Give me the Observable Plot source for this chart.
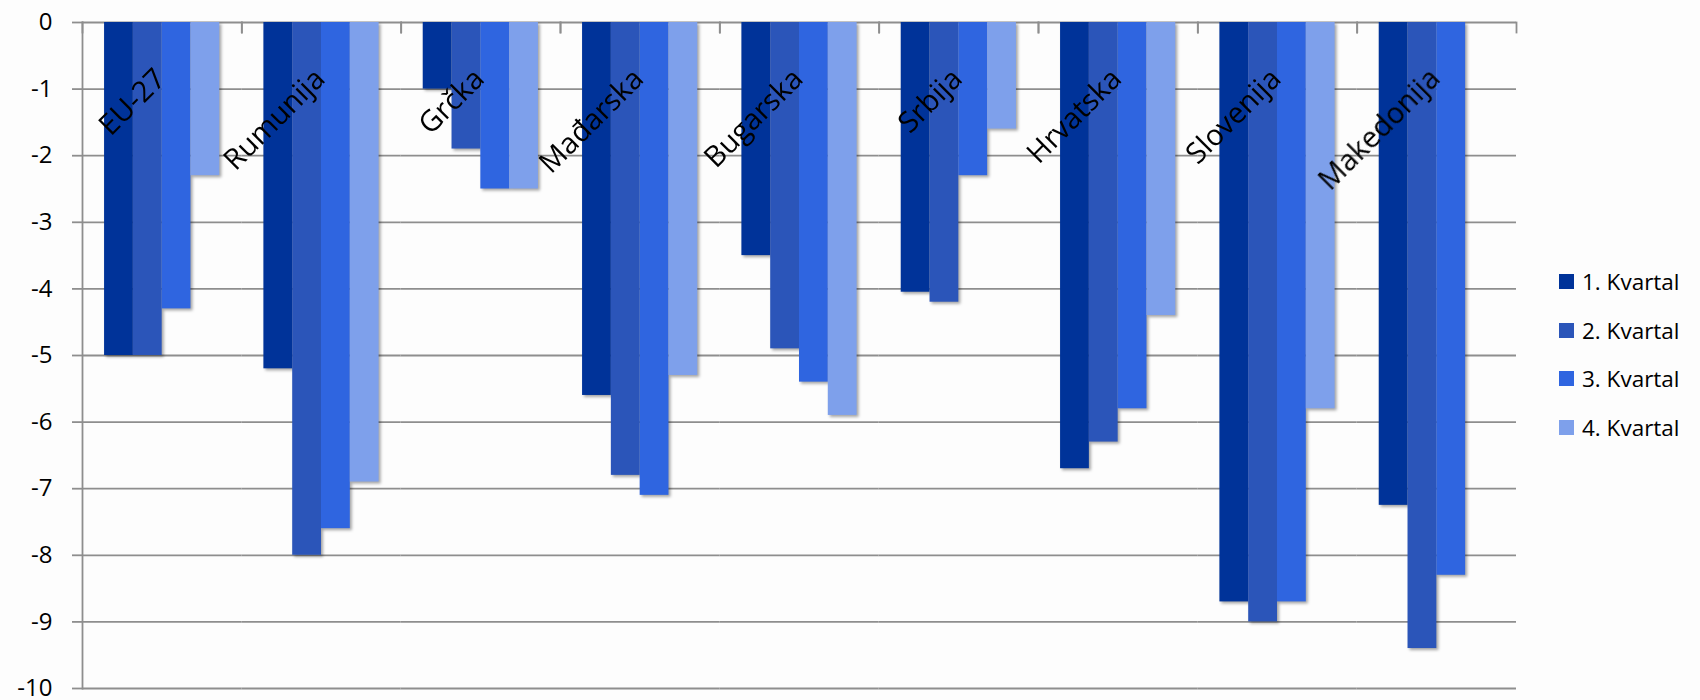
<!DOCTYPE html>
<html>
<head>
<meta charset="utf-8">
<script src="https://cdn.jsdelivr.net/npm/d3@7"></script>
<script src="https://cdn.jsdelivr.net/npm/@observablehq/plot@0.6"></script>
<style>
  html, body { margin: 0; padding: 0; background: #fdfdfd; }
  #wrap { position: relative; width: 1700px; height: 700px; font-family: "Open Sans", sans-serif; }
  #legend { position: absolute; left: 1559px; top: 274px; }
  .item { display: flex; align-items: center; height: 15px; margin-bottom: 33.7px; font-size: 22.5px; color: #000; white-space: nowrap; }
  .sw { width: 15px; height: 15px; margin-right: 8px; flex: none; }
</style>
</head>
<body>
<div id="wrap"><div id="chart"></div><div id="legend"></div></div>
<script>
const countries = ["EU-27", "Rumunija", "Grčka", "Mađarska", "Bugarska", "Srbija", "Hrvatska", "Slovenija", "Makedonija"];
const quarters = ["1. Kvartal", "2. Kvartal", "3. Kvartal", "4. Kvartal"];
const q1 = [-5.0, -5.2, -1.0, -5.6, -3.5, -4.05, -6.7, -8.7, -7.25];
const q2 = [-5.0, -8.0, -1.9, -6.8, -4.9, -4.2, -6.3, -9.0, -9.4];
const q3 = [-4.3, -7.6, -2.5, -7.1, -5.4, -2.3, -5.8, -8.7, -8.3];
const q4 = [-2.3, -6.9, -2.5, -5.3, -5.9, -1.6, -4.4, -5.8, null];
const yTicks = [0, -1, -2, -3, -4, -5, -6, -7, -8, -9, -10];
const colors = ["#003399", "#2b55b9", "#2f65e0", "#7ea0eb"];

const series = [q1, q2, q3, q4];
const data = [];
countries.forEach((c, i) => {
  series.forEach((s, j) => {
    if (s[i] != null) data.push({country: c, quarter: quarters[j], value: s[i]});
  });
});

const gridColor = "#8e8e8e";

const plot = Plot.plot({
  width: 1700,
  height: 700,
  marginLeft: 82,
  marginRight: 184,
  marginTop: 22,
  marginBottom: 12,
  style: {background: "transparent", fontFamily: "Open Sans, sans-serif", overflow: "visible"},
  fx: {domain: countries, paddingInner: 0, paddingOuter: 0, round: false, axis: null, label: null},
  x: {domain: quarters, paddingInner: 0, paddingOuter: 0.766, round: false, axis: null, label: null},
  y: {domain: [-10, 0], label: null, axis: null},
  color: {domain: quarters, range: colors},
  marks: [
    Plot.ruleY(yTicks, {stroke: gridColor, strokeWidth: 1.8}),
    Plot.frame({anchor: "left", stroke: gridColor, strokeWidth: 1.8, strokeDasharray: "10 3000"}),
    Plot.frame({anchor: "right", stroke: gridColor, strokeWidth: 1.8, strokeDasharray: "10 3000"}),
    Plot.barY(data, {fx: "country", x: "quarter", y: "value", fill: "quarter"}),
    Plot.frame({anchor: "left", facetAnchor: "left", stroke: gridColor, strokeWidth: 1.8}),
    Plot.axisY(yTicks, {
      tickSize: 10, tickPadding: 20, fontSize: 24,
      stroke: gridColor, strokeWidth: 1.8, fill: "#000",
      tickFormat: d => String(d), label: null
    }),
    Plot.text(countries, {
      fx: d => d, text: d => d, frameAnchor: "top",
      rotate: -45, textAnchor: "end", lineAnchor: "middle",
      dx: -1.5, dy: 51.5, fontSize: 29, fill: "#000"
    })
  ]
});

plot.querySelectorAll('g[aria-label="bar"]').forEach(g => {
  g.style.filter = "drop-shadow(2px 2px 1.5px rgba(0,0,0,0.35))";
});

document.getElementById("chart").appendChild(plot);

const legend = document.getElementById("legend");
quarters.forEach((q, i) => {
  const item = document.createElement("div");
  item.className = "item";
  const sw = document.createElement("div");
  sw.className = "sw";
  sw.style.background = colors[i];
  const label = document.createElement("span");
  label.textContent = q;
  item.appendChild(sw);
  item.appendChild(label);
  legend.appendChild(item);
});
</script>
</body>
</html>
